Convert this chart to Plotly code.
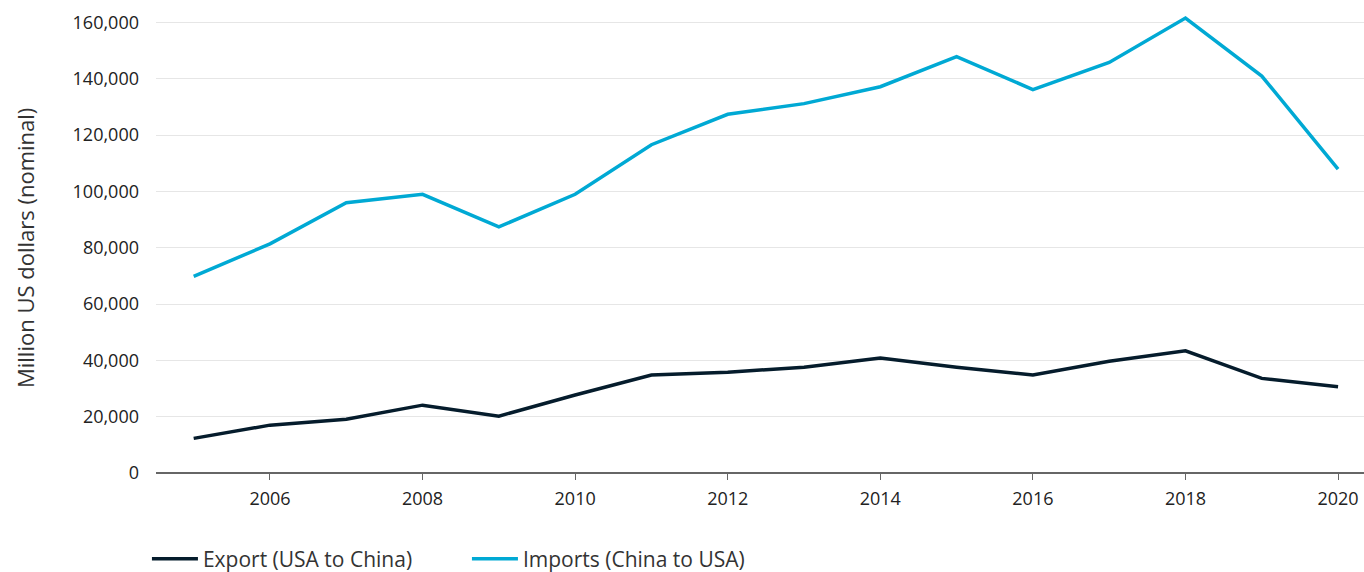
import plotly.graph_objects as go

years = list(range(2005, 2021))
exports = [12300, 17000, 19100, 24100, 20200, 27700, 34800, 35800, 37600, 40800,
           37600, 34800, 39700, 43400, 33600, 30600]
imports = [69800, 81400, 96000, 99000, 87400, 99000, 116600, 127400, 131200, 137200,
           147900, 136200, 145800, 161600, 141000, 107900]
tick_years = [2006, 2008, 2010, 2012, 2014, 2016, 2018, 2020]
y_ticks = [0, 20000, 40000, 60000, 80000, 100000, 120000, 140000, 160000]
y_title = "Million US dollars (nominal)"

FONT = "Open Sans"
fig = go.Figure()
fig.add_trace(go.Scatter(x=years, y=exports, mode="lines", name="Export (USA to China)",
                         line=dict(color="#051c2c", width=3.5)))
fig.add_trace(go.Scatter(x=years, y=imports, mode="lines", name="Imports (China to USA)",
                         line=dict(color="#00a9d4", width=3.5)))

fig.update_layout(
    width=1364, height=572,
    margin=dict(l=156, r=0, t=0, b=99, autoexpand=False),
    paper_bgcolor="white", plot_bgcolor="white",
    font=dict(family=FONT, color="#222222", size=18),
    showlegend=True,
    legend=dict(orientation="h", x=-0.0075, xanchor="left", y=-0.182, yanchor="middle",
                font=dict(size=21, color="#333333"), itemwidth=46, entrywidth=259,
                tracegroupgap=0),
    xaxis=dict(range=[2004.506, 2020.34], tickmode="array", tickvals=tick_years,
               ticktext=[str(y) for y in tick_years], showgrid=False, zeroline=False,
               showline=False, ticks="outside", ticklen=6, tickcolor="#666666", tickwidth=1,
               ticklabelstandoff=3, automargin=False,
               tickfont=dict(size=18, color="#222222")),
    yaxis=dict(range=[0, 168000], tickmode="array", tickvals=y_ticks,
               ticktext=[f"{v:,}" for v in y_ticks], showgrid=True, gridcolor="#e6e6e6",
               gridwidth=1, zeroline=True, zerolinecolor="#666666", zerolinewidth=2,
               showline=False, ticks="", ticklabelstandoff=16, automargin=False,
               tickfont=dict(size=18, color="#222222")),
    annotations=[dict(text=y_title, textangle=-90, xref="paper", yref="paper",
                      x=-0.1084, y=0.4757, xanchor="center", yanchor="middle",
                      showarrow=False, font=dict(size=22, color="#333333"))],
)
fig.write_html("out.html", config={"displayModeBar": False},
               post_script="document.body.style.margin='0';document.body.style.overflow='hidden';")
